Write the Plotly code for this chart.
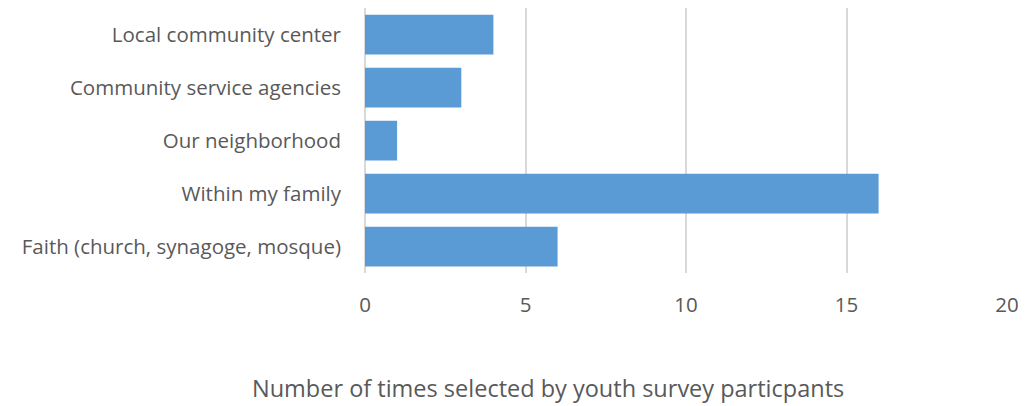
import plotly.graph_objects as go

categories = ["Faith (church, synagoge, mosque)", "Within my family", "Our neighborhood",
              "Community service agencies", "Local community center"]
values = [6, 16, 1, 3, 4]
x_ticks = [0, 5, 10, 15, 20]
x_title = "Number of times selected by youth survey particpants"

font_family = "Open Sans, Liberation Sans, sans-serif"
text_color = "#595959"

fig = go.Figure(go.Bar(
    y=categories, x=values, orientation="h",
    marker=dict(color="#5B9BD5", line=dict(width=0)),
))

# page body has an 8px offset; compensate so the plot area lands where the reference has it
off = 8
W, H = 1026 - off, 406 - off
l, r, t, b = 365 - off, 19, 0, 133
plot_h = H - t - b
plot_w = W - l - r
fig.update_layout(
    width=W, height=H,
    margin=dict(l=l, r=r, t=t, b=b),
    paper_bgcolor="white", plot_bgcolor="white",
    bargap=0.25,
    showlegend=False,
    font=dict(family=font_family, color=text_color, size=20.5),
    xaxis=dict(range=[0, 20], tickvals=x_ticks, showgrid=True, gridcolor="#D9D9D9",
               gridwidth=2, zeroline=True, zerolinecolor="#D9D9D9", zerolinewidth=2,
               showline=False, ticks="", ticklabelstandoff=17,
               tickfont=dict(size=20.5, color=text_color)),
    yaxis=dict(showgrid=False, showline=False, ticks="", ticklabelstandoff=23,
               tickfont=dict(size=20.5, color=text_color)),
    annotations=[dict(text=x_title, x=(548 - 365) / plot_w, xref="paper",
                      y=(273 - 388) / plot_h, yref="paper", showarrow=False,
                      xanchor="center", yanchor="middle",
                      font=dict(size=23.5, color=text_color, family=font_family))],
)
fig.write_html("out.html")
